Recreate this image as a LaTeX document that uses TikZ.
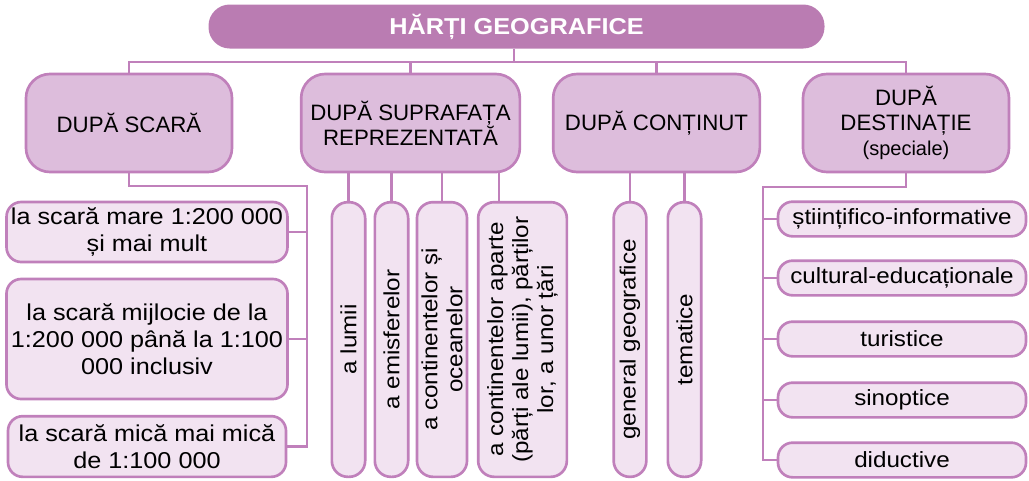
\documentclass[tikz,border=0pt]{standalone}
\usepackage{fontspec}
\setmainfont{Liberation Sans}[FakeStretch=1.1]
\newfontfamily\catfont{Liberation Sans}
\usetikzlibrary{calc}

\definecolor{hg_dark}{RGB}{186,124,178}
\definecolor{hg_mid}{RGB}{221,189,220}
\definecolor{hg_light}{RGB}{242,227,241}
\definecolor{hg_line}{RGB}{192,128,187}

\begin{document}
\begin{tikzpicture}[x=0.75pt, y=-0.75pt,
        title_node/.style={rounded corners=15pt, fill=hg_dark, draw=hg_dark, line width=2pt, minimum width=460pt, minimum height=31pt, text=white, font=\fontsize{17.25}{20}\selectfont\bfseries},
        cat_node/.style={rounded corners=18pt, fill=hg_mid, draw=hg_line, line width=2pt, minimum height=73.5pt, align=center, font=\catfont\fontsize{16.7}{18.5}\selectfont},
        leaf_node/.style={rounded corners=11pt, fill=hg_light, draw=hg_line, line width=2pt, align=center, font=\fontsize{16.5}{20.25}\selectfont},
        scale_leaf/.style={leaf_node, minimum width=208.5pt, font=\fontsize{17.2}{20.25}\selectfont},
        vleaf_node/.style={leaf_node, rotate=90, rounded corners=12pt, minimum width=206pt, font=\fontsize{16.5}{18.75}\selectfont},
        link/.style={draw=hg_line, line width=2pt}
        ]
            \useasboundingbox (0,0) rectangle (1029,480);

            % title
            \node[title_node] (title) at (516.5,26.5) {HĂRȚI GEOGRAFICE};

            % categories
            \node[cat_node, minimum width=154.5pt] (cat_scale) at (129,123)   {DUPĂ SCARĂ};
            \node[cat_node, minimum width=164pt]   (cat_supr)  at (410.5,123) {DUPĂ SUPRAFAȚA\\REPREZENTATĂ};
            \node[cat_node, minimum width=155pt]   (cat_cont)  at (656.5,123) {DUPĂ CONȚINUT};
            \node[cat_node, minimum width=154.5pt] (cat_dest)  at (906,123)   {DUPĂ\\DESTINAȚIE\\{\fontsize{15}{18}\selectfont(speciale)}};

            % after scale
            \node[scale_leaf, minimum height=45pt]   (leaf_s1) at (147,232)   {la scară mare 1:200 000\\și mai mult};
            \node[scale_leaf, minimum height=90pt]   (leaf_s2) at (147,339)   {la scară mijlocie de la\\1:200 000 până la 1:100\\000 inclusiv};
            \node[scale_leaf, minimum height=45.5pt] (leaf_s3) at (147,446.5) {la scară mică mai mică\\de 1:100 000};

            % after surface
            \node[vleaf_node, minimum height=25pt] (leaf_v1) at (348.5,339.5) {a lumii};
            \node[vleaf_node, minimum height=25pt] (leaf_v2) at (391.5,339.5) {a emisferelor};
            \node[vleaf_node, minimum height=36pt] (leaf_v3) at (442,339.5)   {a continentelor și\\oceanelor};
            \node[vleaf_node, minimum height=66.5pt] (leaf_v4) at (522.5,339.5) {a continentelor aparte\\(părți ale lumii), părților\\lor, a unor țări};

            % after content
            \node[vleaf_node, minimum height=24.5pt] (leaf_c1) at (630,339.5)   {general geografice};
            \node[vleaf_node, minimum height=25pt]   (leaf_c2) at (684.5,339.5) {tematice};

            % after destination
            \node[leaf_node, minimum width=186pt, minimum height=26pt] (leaf_d1) at (902,219) {științifico-informative};
            \node[leaf_node, minimum width=186pt, minimum height=26pt] (leaf_d2) at (902,278) {cultural-educaționale};
            \node[leaf_node, minimum width=186pt, minimum height=26pt] (leaf_d3) at (902,339) {turistice};
            \node[leaf_node, minimum width=186pt, minimum height=26pt] (leaf_d4) at (902,400) {sinoptice};
            \node[leaf_node, minimum width=186pt, minimum height=26pt] (leaf_d5) at (902,460) {diductive};

            % Lines
            \coordinate (bus) at (514,62);
            \draw[link] (bus |- title.south) -- (bus);
            \draw[link] (cat_scale.north) |- (bus) -| (cat_dest.north);
            \draw[link] (cat_supr.north) -- (cat_supr.north |- bus);
            \draw[link] (cat_cont.north) -- (cat_cont.north |- bus);
            % scale
            \coordinate (scale_bus) at (307,186);
            \draw[link] (cat_scale.south) |- (scale_bus) |- (leaf_s3.east);
            \draw[link] (leaf_s1.east) -- (leaf_s1.east -| scale_bus);
            \draw[link] (leaf_s2.east) -- (leaf_s2.east -| scale_bus);
            % surface
            \coordinate (v4_in) at ($(leaf_v4.east)+(-23.5,0)$);
            \draw[link] (leaf_v1.east) -- (leaf_v1.east |- cat_supr.south);
            \draw[link] (leaf_v2.east) -- (leaf_v2.east |- cat_supr.south);
            \draw[link] (leaf_v3.east) -- (leaf_v3.east |- cat_supr.south);
            \draw[link] (v4_in) -- (v4_in |- cat_supr.south);
            % content
            \draw[link] (leaf_c1.east) -- (leaf_c1.east |- cat_cont.south);
            \draw[link] (leaf_c2.east) -- (leaf_c2.east |- cat_cont.south);
            % destination
            \coordinate (dest_bus) at (763,187);
            \draw[link] (cat_dest.south) |- (dest_bus) |- (leaf_d5.west);
            \draw[link] (leaf_d1.west) -- (leaf_d1.west -| dest_bus);
            \draw[link] (leaf_d2.west) -- (leaf_d2.west -| dest_bus);
            \draw[link] (leaf_d3.west) -- (leaf_d3.west -| dest_bus);
            \draw[link] (leaf_d4.west) -- (leaf_d4.west -| dest_bus);
        \end{tikzpicture}
\end{document}
